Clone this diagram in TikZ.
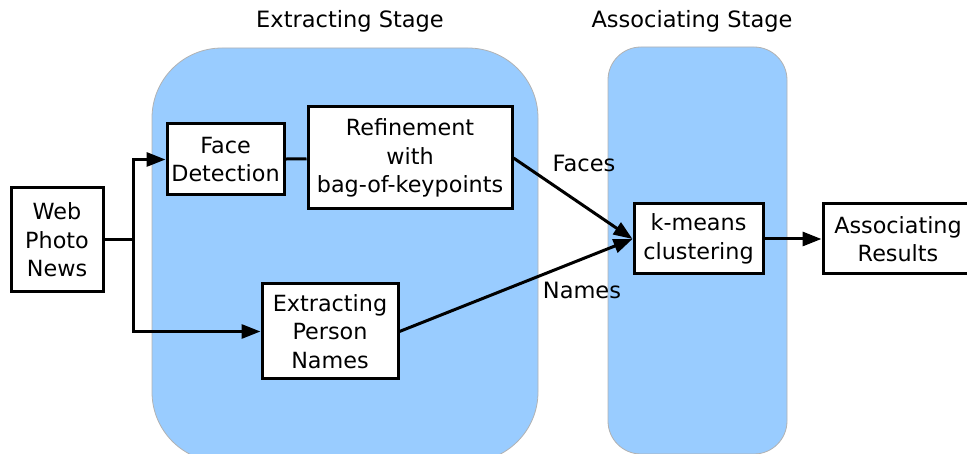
\documentclass[tikz,border=0pt]{standalone}
\usepackage{fontspec}
\setmainfont{DejaVu Sans}
\usetikzlibrary{arrows.meta}
\definecolor{stageblue}{RGB}{153,204,255}
\begin{document}
\begin{tikzpicture}[x=1pt,y=-1pt,
  box/.style={draw,line width=3pt,fill=white,inner sep=0pt,align=center,font=\fontsize{22.3}{28.5}\selectfont},
  conn/.style={line width=3pt,-{Triangle[length=19pt,width=14pt]}},
  plain/.style={line width=3pt},
  lbl/.style={font=\fontsize{22.5}{26}\selectfont,inner sep=0pt},
  stage/.style={fill=stageblue,draw=gray!60,line width=0.8pt}]
\useasboundingbox (0,0) rectangle (967,454);
\path[stage,rounded corners=70pt] (152,48) rectangle (538,462);
\path[stage,rounded corners=33pt] (608,47) rectangle (787,454);
\node[lbl] (t1) at (350,21) {Extracting Stage};
\node[lbl] (t2) at (692,21) {Associating Stage};
\node[box,minimum width=92pt,minimum height=104pt] (web) at (57,240) {Web\\Photo\\News};
\node[box,minimum width=117pt,minimum height=71pt] (face) at (225.5,159.5) {Face\\Detection};
\node[box,minimum width=204pt,minimum height=102pt] (refine) at (410,158) {Refinement\\with\\bag-of-keypoints};
\node[box,minimum width=136pt,minimum height=95pt] (names) at (330,331.5) {Extracting\\Person\\Names};
\node[box,minimum width=129pt,minimum height=70pt] (kmeans) at (698.5,239) {k-means\\clustering};
\node[box,minimum width=150pt,minimum height=70pt] (results) at (898,239) {Associating\\Results};
\coordinate (split) at (133,240);
\draw[plain] (web.east) -- (split);
\draw[conn] (split) |- (face.west);
\draw[conn] (split) |- (names.west);
\draw[plain] (face) -- (refine);
\draw[conn] (refine.east) -- (kmeans.west);
\draw[conn] (names.east) -- (kmeans.west);
\draw[conn] (kmeans.east) -- (results.west);
\node[lbl] (lf) at (584,163) {Faces};
\node[lbl] (ln) at (582,290) {Names};
\end{tikzpicture}
\end{document}
